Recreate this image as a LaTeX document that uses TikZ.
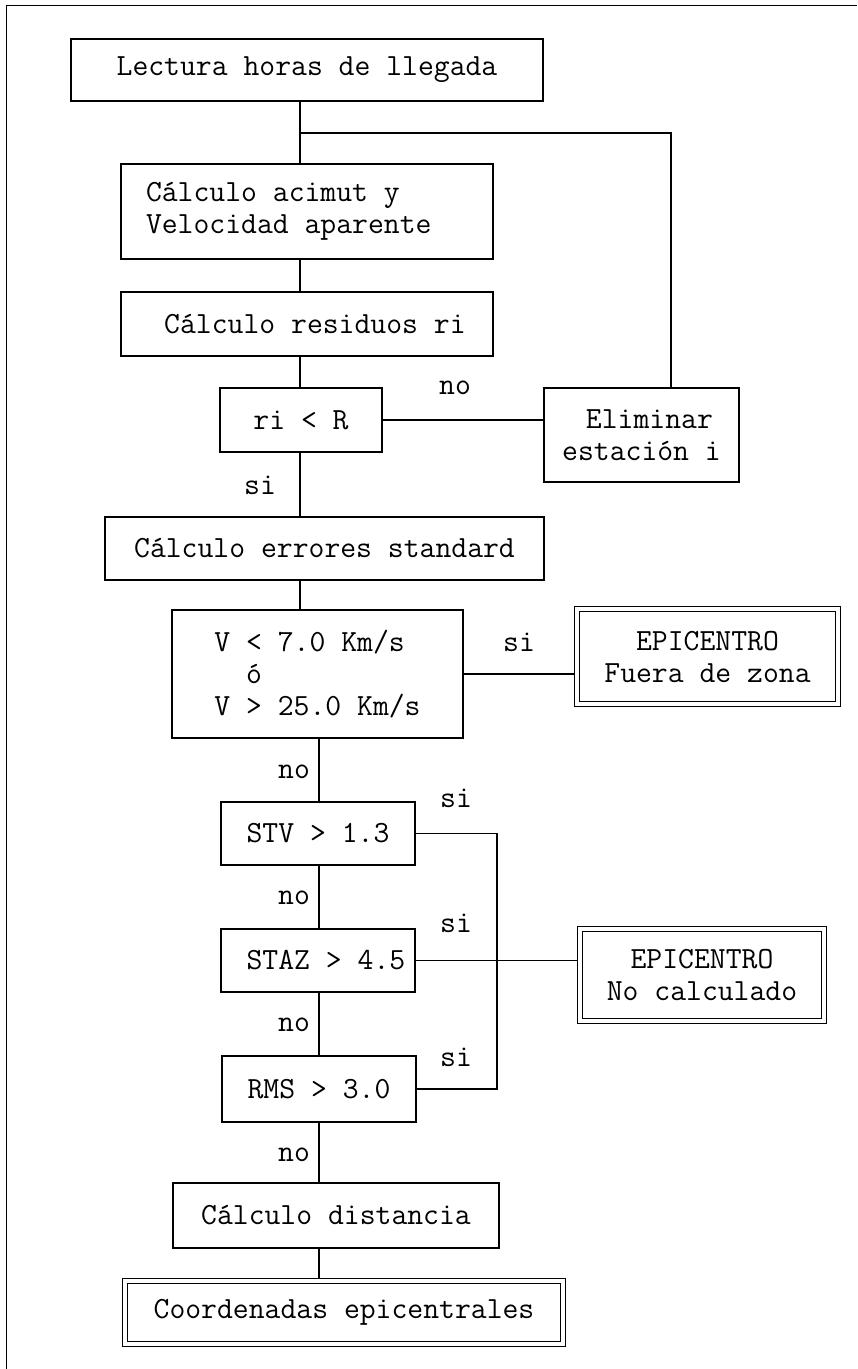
\documentclass[tikz,border=0pt]{standalone}
\usepackage{fontspec}

\begin{document}
\begin{tikzpicture}[x=0.5pt, y=-0.5pt,
	every node/.style={font=\ttfamily\fontsize{15.4}{16}\selectfont},
	box/.style={draw, line width=0.7pt, inner sep=0pt, align=center},
	endbox/.style={draw, double, double distance=1.6pt, line width=0.6pt,
		outer sep=1.4pt, inner sep=0pt, align=center},
	link/.style={line width=0.7pt},
	tag/.style={inner sep=1pt}]
	
	% Page frame (top and left only)
	\useasboundingbox (0,0) rectangle (857,1369);
	\draw[line width=0.5pt] (6,1369) -- (6,6) -- (857,6);
	
	% Spine positions
	\coordinate (up) at (300,0);
	\coordinate (low) at (319,0);
	\coordinate (back) at (671,133);
	\coordinate (loop) at (497,0);
	
	% -----------------------------
	% Boxes
	% -----------------------------
	\node[box, minimum width=236pt, minimum height=31pt] (lectura) at (307,70) {Lectura horas de llegada};
	\node[box, align=left, text width=161pt, inner xsep=12.5pt, minimum height=47.5pt] (acimut) at (307,211.5) {\spaceskip=0pt\relax Cálculo acimut y\\Velocidad aparente};
	\node[box, minimum width=186pt, minimum height=32pt] (residuos) at (307,324) {\hphantom{C}Cálculo residuos ri};
	\node[box, minimum width=81pt, minimum height=32pt] (test) at (301,420) {ri < R};
	\node[box, minimum width=97.5pt, minimum height=47pt] (elim) at (641.5,435) {\hphantom{E}Eliminar\\estación i};
	\node[box, minimum width=219.5pt, minimum height=31.5pt] (errores) at (324.5,548.5) {Cálculo errores standard};
	\node[box, align=left, minimum width=145.5pt, minimum height=64pt] (veloc) at (317.5,674) {V < 7.0 Km/s\\\hphantom{VV}ó\\V > 25.0 Km/s};
	\node[endbox, minimum width=130.5pt, minimum height=47.5pt] (fuera) at (707.5,656.5) {EPICENTRO\\Fuera de zona};
	\node[box, minimum width=97pt, minimum height=31.5pt] (stv) at (318,833.5) {STV > 1.3};
	\node[box, minimum width=97pt, minimum height=31.5pt] (staz) at (318,960.5) {\hphantom{S}STAZ > 4.5};
	\node[endbox, minimum width=122pt, minimum height=46pt] (nocalc) at (702,975) {EPICENTRO\\No calculado};
	\node[box, minimum width=97pt, minimum height=33pt] (rms) at (319,1089) {RMS > 3.0};
	\node[box, minimum width=163pt, minimum height=32.5pt] (dist) at (336,1215.5) {Cálculo distancia};
	\node[endbox, minimum width=219pt, minimum height=31.5pt] (coord) at (344,1312.5) {Coordenadas epicentrales};
	
	% -----------------------------
	% Connectors
	% -----------------------------
	\foreach \a/\b in {lectura/acimut, acimut/residuos, residuos/test, test/errores, errores/veloc}
		\draw[link] (\a.south -| up) -- (\b.north -| up);
	\foreach \a/\b in {veloc/stv, stv/staz, staz/rms, rms/dist, dist/coord}
		\draw[link] (\a.south -| low) -- (\b.north -| low);
	
	% reject loop back to the top
	\draw[link] (test.east) -- (test.east -| elim.west);
	\draw[link] (elim.north -| back) -- (back) -- (back -| up);
	
	% exits to the right
	\draw[link] (veloc.east) -- (veloc.east -| fuera.west);
	\draw[link] (stv.east) -- (stv.east -| loop) -- (rms.east -| loop) -- (rms.east);
	\draw[link] (staz.east) -- (staz.east -| nocalc.west);
	
	% Branch labels
	\foreach \n/\x/\y/\t in {no1/455/388/no, si1/260/485/si, si2/519/642/si,
		no2/294/772/no, si3/456/798/si, no3/294/898/no, si4/456/923/si,
		no4/294/1025/no, si5/456/1057/si, no5/294/1155/no}
		\node[tag] (\n) at (\x,\y) {\t};
	
\end{tikzpicture}
\end{document}
